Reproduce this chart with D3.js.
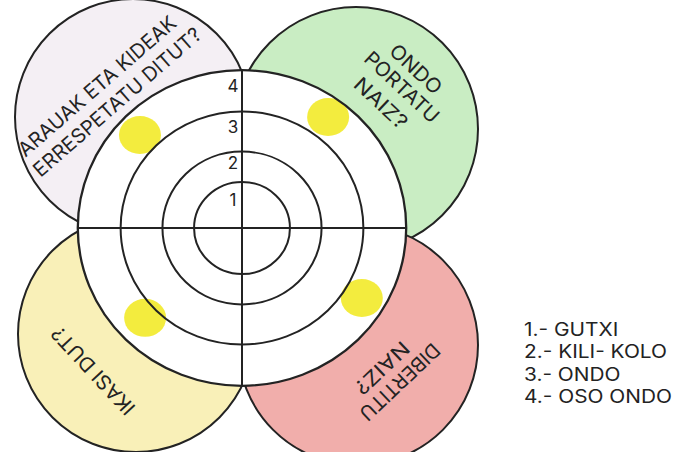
<!DOCTYPE html>
<meta charset="utf-8">
<body style="margin:0;background:#fff">
<svg width="675" height="452"></svg>
<script src="https://cdn.jsdelivr.net/npm/d3@7"></script>
<script>

// questions (one per petal) and the child's answers
var questionLines = [
  ["ARAUAK ETA KIDEAK", "ERRESPETATU DITUT?"],
  ["ONDO", "PORTATU", "NAIZ?"],
  ["IKASI DUT?"],
  ["DIBERTITU", "NAIZ?"]
];
var answerAngles = [-136.5, -53.3, 136, 31.3];   // degrees, where the dot was painted
var answerValues = [3.45, 3.53, 3.31, 3.44];     // on the ring scale 0..4
var levels = [1, 2, 3, 4];
var levelLabels = ["GUTXI", "KILI- KOLO", "ONDO", "OSO ONDO"];

var svg = d3.select("svg");
var font = "Inter, 'DejaVu Sans', sans-serif";
var ink = "#232323";

var cx = 242, cy = 228;
var r = d3.scaleLinear().domain([0, 1, 2, 3, 4]).range([0, 47, 78, 119, 161]);
var kx = 1.02, ky = 0.98;   // the scan is a bit squashed

// petals behind the target
var petals = [
  {x: 133, y: 117, r: 118, fill: "#f4eff4"},
  {x: 356, y: 129, r: 122, fill: "#c9edc3"},
  {x: 136, y: 334, r: 118, fill: "#f9f0b8"},
  {x: 358, y: 345, r: 120, fill: "#f1aeab"}
];
svg.append("g").selectAll("circle")
  .data(petals).join("circle")
  .attr("cx", function(d) { return d.x; })
  .attr("cy", function(d) { return d.y; })
  .attr("r", function(d) { return d.r; })
  .attr("fill", function(d) { return d.fill; })
  .attr("stroke", ink)
  .attr("stroke-width", 2);

// question texts, rotated along each petal
var textLayout = [
  {rot: -41, lines: [[97, 86, 202], [117, 102, 215]]},
  {rot: 43, lines: [[416, 69, 63], [402, 87, 94], [381, 103, 65]]},
  {rot: 227, lines: [[93, 371, 112]]},
  {rot: 136.6, lines: [[400, 382, 102], [382, 368, 67]]}
];
var qText = svg.append("g")
  .attr("font-family", font)
  .attr("font-size", 20)
  .attr("fill", ink);
questionLines.forEach(function(lines, i) {
  var lay = textLayout[i];
  lines.forEach(function(txt, j) {
    var p = lay.lines[j];
    qText.append("text")
      .attr("transform", "translate(" + p[0] + "," + p[1] + ") rotate(" + lay.rot + ")")
      .attr("text-anchor", "middle")
      .attr("dy", "0.36em")
      .attr("textLength", p[2])
      .attr("lengthAdjust", "spacingAndGlyphs")
      .text(txt);
  });
});

// target
var target = svg.append("g").attr("transform", "translate(" + cx + "," + cy + ")");
target.append("ellipse")
  .attr("rx", r(4) * kx).attr("ry", r(4) * ky)
  .attr("fill", "#fff");

// painted answers
target.selectAll(".dot")
  .data(answerValues).join("ellipse")
  .attr("class", "dot")
  .attr("cx", function(d, i) { return r(d) * kx * Math.cos(answerAngles[i] * Math.PI / 180); })
  .attr("cy", function(d, i) { return r(d) * ky * Math.sin(answerAngles[i] * Math.PI / 180); })
  .attr("rx", 21).attr("ry", 19)
  .attr("fill", "#f2ea2e")
  .attr("opacity", 0.92);

target.selectAll(".ring")
  .data(levels).join("ellipse")
  .attr("class", "ring")
  .attr("rx", function(d) { return r(d) * kx; })
  .attr("ry", function(d) { return r(d) * ky; })
  .attr("fill", "none")
  .attr("stroke", ink)
  .attr("stroke-width", function(d) { return d == 4 ? 2.3 : 2; });

target.append("line")
  .attr("x1", 0).attr("x2", 0)
  .attr("y1", -r(4) * ky).attr("y2", r(4) * ky)
  .attr("stroke", ink).attr("stroke-width", 2);
target.append("line")
  .attr("y1", 0).attr("y2", 0)
  .attr("x1", -r(4) * kx).attr("x2", r(4) * kx)
  .attr("stroke", ink).attr("stroke-width", 2);

target.selectAll(".num")
  .data(levels).join("text")
  .attr("class", "num")
  .attr("x", -9)
  .attr("y", function(d) { return -(r(d - 1) + 0.62 * (r(d) - r(d - 1))) * ky; })
  .attr("dy", "0.36em")
  .attr("text-anchor", "middle")
  .attr("font-family", font)
  .attr("font-size", 17)
  .attr("fill", ink)
  .text(function(d) { return d; });

// legend (the printed font is wider than Inter, so stretch to the same width)
var legend = svg.append("g")
  .attr("transform", "translate(524,336)")
  .selectAll("text")
  .data(levelLabels).join("text")
  .attr("y", function(d, i) { return i * 22.4; })
  .attr("font-family", font)
  .attr("font-size", 18)
  .attr("fill", ink)
  .text(function(d, i) { return levels[i] + ".- " + d; });
var widest = d3.max(legend.nodes(), function(n) { return n.getComputedTextLength(); });
var stretch = 148 / widest;
legend.attr("textLength", function() { return this.getComputedTextLength() * stretch; })
  .attr("lengthAdjust", "spacingAndGlyphs");

</script>
</body>
